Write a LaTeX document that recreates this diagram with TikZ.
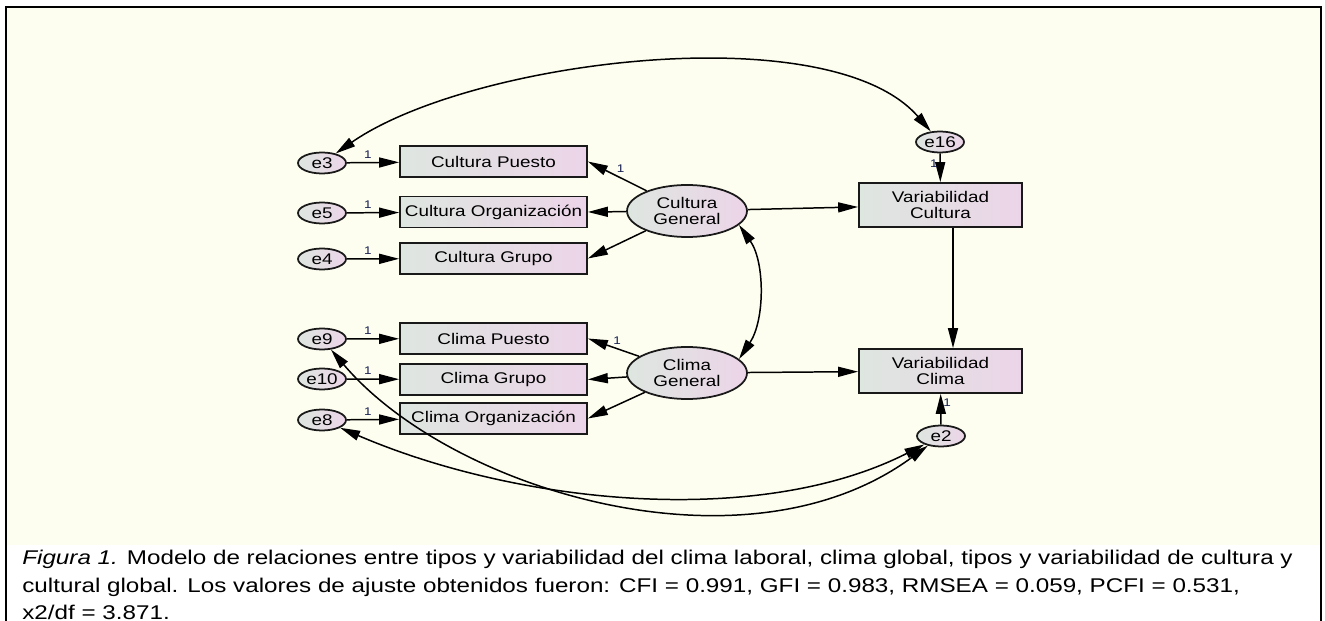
\documentclass[tikz,border=0pt]{standalone}
\usepackage{fontspec}
\usepackage{tikz}
\usetikzlibrary{shapes.geometric,arrows.meta}
\newfontfamily\diagfont{Liberation Sans}[FakeStretch=1.22]
\newcommand{\boxfont}{\diagfont\fontsize{8.8}{9.4}\selectfont}
\newcommand{\onefont}{\diagfont\fontsize{6.3}{6.5}\selectfont}
\newcommand{\capfont}{\diagfont\fontsize{11.3}{15.6}\selectfont}
\definecolor{cream}{RGB}{254,254,240}
\definecolor{boxleft}{RGB}{222,230,224}
\definecolor{boxright}{RGB}{236,212,232}
\definecolor{onecol}{RGB}{20,30,80}
\tikzset{
    >={Triangle[length=0.4cm,width=0.2cm]},
    obsbox/.style={draw=black!90, line width=1pt, left color=boxleft, right color=boxright,
        inner sep=0pt, font=\boxfont, align=center, minimum width=3.74cm, minimum height=0.62cm},
    varbox/.style={obsbox, minimum width=3.26cm, minimum height=0.88cm},
    latent/.style={obsbox, ellipse, minimum width=2.4cm, minimum height=1.04cm},
    errnode/.style={obsbox, ellipse, minimum width=0.96cm, minimum height=0.42cm},
    one/.style={font=\onefont, text=onecol, inner sep=1pt},
    reg/.style={->, line width=0.85pt},
    cov/.style={<->, line width=0.85pt}
}

\begin{document}
\begin{tikzpicture}[x=0.02cm,y=-0.02cm]
    \path[use as bounding box, clip] (0,0) rectangle (1325,621);
    \fill[cream] (6,7) rectangle (1321,545);
    \draw[line width=1.3pt] (6,640) -- (6,7) -- (1321,7) -- (1321,640);
    %cultura block
    \node[latent] (CG) at (687,211) {Cultura\\General};
    \node[obsbox] (CP) at (493.5,161.5) {Cultura Puesto};
    \node[obsbox] (CO) at (493.5,212) {Cultura Organización};
    \node[obsbox] (CGr) at (493.5,258.5) {Cultura Grupo};
    \node[errnode] (e3) at (322,163) {e3};
    \node[errnode] (e5) at (322,213) {e5};
    \node[errnode] (e4) at (322,259) {e4};
    %clima block
    \node[latent] (KG) at (687,373) {Clima\\General};
    \node[obsbox] (KP) at (493.5,338.5) {Clima Puesto};
    \node[obsbox] (KGr) at (493.5,379.5) {Clima Grupo};
    \node[obsbox] (KO) at (493.5,418.5) {Clima Organización};
    \node[errnode] (e9) at (322,339) {e9};
    \node[errnode] (e10) at (322,379) {e10};
    \node[errnode] (e8) at (322,420) {e8};
    %variabilidad
    \node[varbox] (VC) at (940.5,205) {Variabilidad\\Cultura};
    \node[varbox] (VK) at (940.5,371) {Variabilidad\\Clima};
    \node[errnode] (e16) at (940,142) {e16};
    \node[errnode] (e2) at (941,436) {e2};

    \draw[reg] (e3) -- (CP) node[pos=.4, above=1pt, one] {1};
    \draw[reg] (e5) -- (CO) node[pos=.4, above=1pt, one] {1};
    \draw[reg] (e4) -- (CGr) node[pos=.4, above=1pt, one] {1};
    \draw[reg] (e9) -- (KP) node[pos=.4, above=1pt, one] {1};
    \draw[reg] (e10) -- (KGr) node[pos=.4, above=1pt, one] {1};
    \draw[reg] (e8) -- (KO) node[pos=.4, above=1pt, one] {1};
    \draw[reg] (CG) -- (CP.east) node[pos=.55, above right=0pt, one] {1};
    \draw[reg] (CG) -- (CO.east);
    \draw[reg] (CG) -- (CGr.east);
    \draw[reg] (KG) -- (KP.east) node[pos=.55, above right=0pt, one] {1};
    \draw[reg] (KG) -- (KGr.east);
    \draw[reg] (KG) -- (KO.east);
    \draw[reg] (CG) -- (VC);
    \draw[reg] (KG) -- (VK);
    \draw[reg] ([xshift=0.25cm]VC.south) -- ([xshift=0.25cm]VK.north);
    \draw[reg] (e16) -- (VC) node[pos=.35, left=0pt, one] {1};
    \draw[reg] (e2) -- (VK) node[pos=.7, right=0pt, one] {1};

    %covariances
    \draw[cov] (e3) .. controls (470,60) and (830,15) .. (e16);
    \draw[cov] (CG.-15) .. controls (765,262) and (765,320) .. (KG.15);
    \draw[cov] (e8) .. controls (520,505) and (760,528) .. (e2);
    \draw[cov] (e9) .. controls (450,490) and (745,580) .. (e2);

    \node[anchor=north west, inner sep=0pt, align=left, font=\capfont] (cap) at (22,550)
        {\textit{Figura 1.} Modelo de relaciones entre tipos y variabilidad del clima laboral, clima global, tipos y variabilidad de cultura y\\
        cultural global. Los valores de ajuste obtenidos fueron: CFI = 0.991, GFI = 0.983, RMSEA = 0.059, PCFI = 0.531,\\
        x2/df = 3.871.};
\end{tikzpicture}
\end{document}
